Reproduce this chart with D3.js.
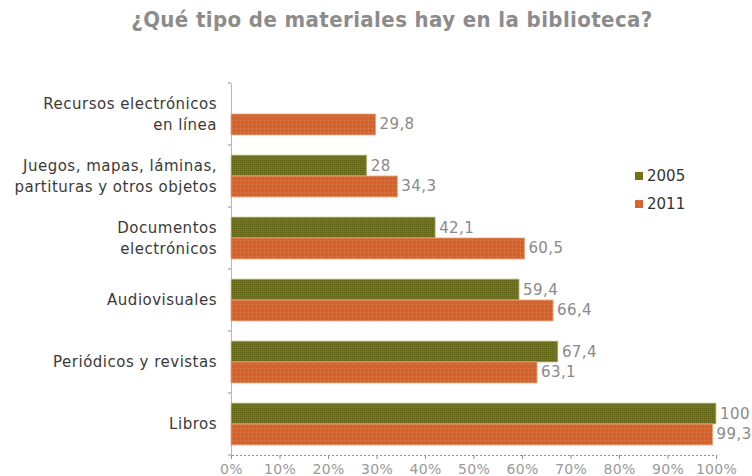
<!DOCTYPE html>
<html>
<head>
  <meta charset="utf-8">
  <script src="https://d3js.org/d3.v7.min.js"></script>
  <style type="text/css">
    body { margin: 0; background: #fff; }
    svg text { font-family: "DejaVu Sans", Verdana, sans-serif; }
  </style>
</head>
<body>
  <script type="text/javascript">
    // chart data
    var categories = ["Recursos electrónicos\nen línea",
                      "Juegos, mapas, láminas,\npartituras y otros objetos",
                      "Documentos\nelectrónicos",
                      "Audiovisuales",
                      "Periódicos y revistas",
                      "Libros"];
    var years = ["2005", "2011"];
    var values2005 = [null, 28, 42.1, 59.4, 67.4, 100];
    var values2011 = [29.8, 34.3, 60.5, 66.4, 63.1, 99.3];
    var xTicks = [0, 10, 20, 30, 40, 50, 60, 70, 80, 90, 100];

    var colors = {"2005": "#76771b", "2011": "#d5632c"};
    var fmt = function (v) { return String(v).replace(".", ","); };

    var width = 752, height = 476;
    var plotLeft = 231, plotRight = 716, plotTop = 83, plotBottom = 455;

    var svg = d3.select("body").append("svg")
        .attr("width", width)
        .attr("height", height);

    // patterns to mimic the dithered fills
    var defs = svg.append("defs");
    var p1 = defs.append("pattern").attr("id", "pat2005")
        .attr("width", 2).attr("height", 2).attr("patternUnits", "userSpaceOnUse");
    p1.append("rect").attr("width", 2).attr("height", 2).attr("fill", colors["2005"]);
    p1.append("rect").attr("width", 1).attr("height", 1).attr("fill", "#5e6012");
    var p2 = defs.append("pattern").attr("id", "pat2011")
        .attr("width", 4).attr("height", 4).attr("patternUnits", "userSpaceOnUse");
    p2.append("rect").attr("width", 4).attr("height", 4).attr("fill", colors["2011"]);
    p2.append("rect").attr("width", 1).attr("height", 1).attr("fill", "#e0885a");

    svg.append("text")
        .attr("x", 392).attr("y", 27)
        .attr("text-anchor", "middle")
        .style("font-family", "'DejaVu Sans Condensed', 'DejaVu Sans', sans-serif")
        .style("font-size", "22px")
        .style("font-weight", "bold")
        .style("letter-spacing", "0.4px")
        .style("fill", "#8c8c8c")
        .text("¿Qué tipo de materiales hay en la biblioteca?");

    var x = d3.scaleLinear().domain([0, 100]).range([plotLeft, plotRight]);
    var y = d3.scaleBand().domain(categories).range([plotTop, plotBottom]).paddingInner(0).paddingOuter(0);
    var y1 = d3.scaleBand().domain(years).range([0, y.bandwidth()]).paddingOuter(0.48);

    // x axis
    var xAxis = svg.append("g")
        .attr("transform", "translate(0," + plotBottom + ")")
        .call(d3.axisBottom(x).tickValues(xTicks).tickSize(4).tickFormat(function (d) { return d + "%"; }));
    xAxis.select(".domain").attr("stroke", "#8a8ab0").attr("stroke-dasharray", "2,2");
    xAxis.selectAll(".tick line").attr("stroke", "#8a8ab0");
    xAxis.selectAll(".tick text")
        .style("font-size", "14px")
        .style("letter-spacing", "0.3px")
        .style("fill", "#9a9a9a")
        .attr("dy", "0.85em");

    // y axis
    var yAxis = svg.append("g")
        .attr("transform", "translate(" + plotLeft + ",0)")
        .call(d3.axisLeft(y).tickSize(0).tickFormat(""));
    yAxis.select(".domain").attr("stroke", "#b8b8b8");
    yAxis.selectAll(".bound").data(d3.range(categories.length + 1)).enter()
        .append("line")
        .attr("x1", -3).attr("x2", 0)
        .attr("y1", function (i) { return plotTop + i * y.bandwidth(); })
        .attr("y2", function (i) { return plotTop + i * y.bandwidth(); })
        .attr("stroke", "#8a8ab0");

    // category labels
    categories.forEach(function (c) {
        var lines = c.split("\n");
        var cy = y(c) + y.bandwidth() / 2;
        var t = svg.append("text")
            .attr("text-anchor", "end")
            .style("font-size", "15px")
            .style("letter-spacing", "0.5px")
            .style("fill", "#3a3a3a");
        lines.forEach(function (ln, i) {
            t.append("tspan")
                .attr("x", plotLeft - 14)
                .attr("y", cy + (i - (lines.length - 1) / 2) * 21 + 5)
                .text(ln);
        });
    });

    // bars
    var series = [{year: "2005", vals: values2005}, {year: "2011", vals: values2011}];
    series.forEach(function (s) {
        var g = svg.append("g");
        categories.forEach(function (c, i) {
            var v = s.vals[i];
            if (v === null) return;
            g.append("rect")
                .attr("x", x(0))
                .attr("y", y(c) + y1(s.year))
                .attr("width", x(v) - x(0))
                .attr("height", y1.bandwidth())
                .attr("fill", "url(#pat" + s.year + ")")
                .attr("stroke", s.year === "2005" ? "#c9c98a" : "#e8a27c")
                .attr("stroke-width", 0.8);
            g.append("text")
                .attr("x", x(v) + 4)
                .attr("y", y(c) + y1(s.year) + y1.bandwidth() / 2 + 5)
                .style("font-size", "15px")
                .style("letter-spacing", "0.4px")
                .style("fill", "#8a8a8a")
                .text(fmt(v));
        });
    });

    // legend
    var legend = svg.append("g").attr("transform", "translate(635,168)");
    years.forEach(function (yr, i) {
        legend.append("rect")
            .attr("x", 0).attr("y", i * 28 + 4)
            .attr("width", 8).attr("height", 8)
            .attr("fill", "url(#pat" + yr + ")");
        legend.append("text")
            .attr("x", 12).attr("y", i * 28 + 13)
            .style("font-size", "15px")
            .style("fill", "#333")
            .text(yr);
    });
  </script>
</body>
</html>
